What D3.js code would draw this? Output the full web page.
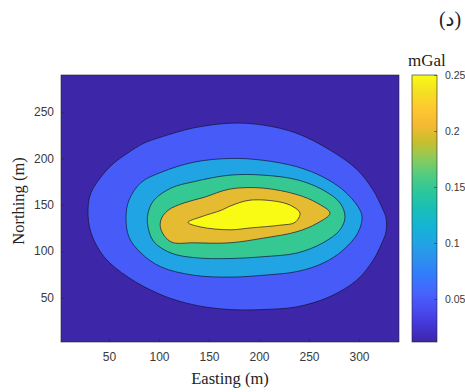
<!DOCTYPE html>
<html>
<head>
<meta charset="utf-8">
<script src="https://cdn.jsdelivr.net/npm/d3@7"></script>
<style>
body { margin: 0; background: #fff; }
svg { display: block; }
</style>
</head>
<body>
<div class="chart_frame"></div>
<script>
// contour levels (mGal), lowest entry is the field minimum
var levels = [0.0116, 0.05, 0.10, 0.15, 0.20, 0.25];
var cbTicks = [0.05, 0.1, 0.15, 0.2, 0.25];
var xTicks = [50, 100, 150, 200, 250, 300];
var yTicks = [50, 100, 150, 200, 250];
var eastingRange = [2, 340],
    northingRange = [2, 290];

// contour rings, [easting, northing] in metres
var c050 = [[29,144],[32,163],[45,184],[56,196],[69,206],[84,216],[102,223],[135,233],[172,238],[204,236],
            [238,227],[271,209],[298,188],[314,166],[323,147],[327,136],[327,121],[323,109],[314,90],[298,69],
            [271,51],[238,40],[204,37],[171,37],[135,42],[102,53],[69,72],[45,94],[32,120]];
var c100 = [[67,137],[70,155],[82,174],[102,185],[135,196],[172,200],[204,198],[238,191],[264,180],[284,166],
            [299,148],[303,137],[299,120],[284,101],[264,87],[238,78],[204,74],[172,72],[135,74],[102,83],
            [82,98],[70,115]];
var c150 = [[89,141],[95,155],[112,168],[135,175],[171,182],[204,182],[238,177],[264,166],[281,152],[286,137],
            [281,123],[264,109],[238,98],[204,94],[171,92],[135,93],[112,98],[95,110],[89,126]];
var c200 = [[102,134],[109,144],[125,152],[145,158],[171,167],[204,168],[238,161],[258,152],[271,141],[258,130],
            [238,121],[204,114],[171,109],[135,109],[112,110],[102,123]];
var c250 = [[129,131],[142,137],[162,144],[172,149],[191,155],[221,153],[234,148],[241,141],[236,131],[221,128],
            [191,125],[171,123],[142,126]];

var contours = [
    {level: levels[1], ring: c050},
    {level: levels[2], ring: c100},
    {level: levels[3], ring: c150},
    {level: levels[4], ring: c200},
    {level: levels[5], ring: c250}
];

// parula colormap
var parula = ['#3e26a8','#4435d5','#484df0','#4665fd','#327bfc','#2c91ed','#20a5e3','#14b5d4',
              '#19bfb5','#2bc79b','#51cc80','#8ccb5b','#c8bf2d','#f5b935','#fec830','#f5e023','#f9fb15'];

var width = 465, height = 392,
    plot = {'left': 61, 'top': 75, 'width': 338, 'height': 267},
    cbar = {'left': 412, 'top': 75, 'width': 25, 'height': 267};

var x = d3.scaleLinear().domain(eastingRange).range([0, plot.width]);
var y = d3.scaleLinear().domain(northingRange).range([plot.height, 0]);
var cmin = levels[0], cmax = levels[levels.length - 1];
var color = d3.scaleLinear()
    .domain(parula.map(function(d, i) { return cmin + i * (cmax - cmin) / (parula.length - 1); }))
    .range(parula)
    .interpolate(d3.interpolateRgb);
var cy = d3.scaleLinear().domain([cmin, cmax]).range([cbar.height, 0]);

var svg = d3.select('.chart_frame').append('svg')
    .attr('width', width)
    .attr('height', height);

var defs = svg.append('defs');
defs.append('clipPath').attr('id', 'plotclip')
    .append('rect').attr('width', plot.width).attr('height', plot.height);

var grad = defs.append('linearGradient').attr('id', 'cbgrad')
    .attr('x1', 0).attr('y1', 1).attr('x2', 0).attr('y2', 0);
parula.forEach(function(c, i) {
    grad.append('stop').attr('offset', i / (parula.length - 1)).attr('stop-color', c);
});

// map
var chart = svg.append('g')
    .attr('transform', 'translate(' + plot.left + ',' + plot.top + ')');
var map = chart.append('g').attr('clip-path', 'url(#plotclip)');

map.append('rect')
    .attr('width', plot.width)
    .attr('height', plot.height)
    .attr('fill', color(levels[0]));

var ringLine = d3.line()
    .x(function(d) { return x(d[0]); })
    .y(function(d) { return y(d[1]); })
    .curve(d3.curveCatmullRomClosed.alpha(0.5));

map.selectAll('path.band')
    .data(contours)
    .enter().append('path')
    .attr('class', 'band')
    .attr('d', function(d) { return ringLine(d.ring); })
    .attr('fill', function(d) { return color(d.level); })
    .attr('stroke', '#101030')
    .attr('stroke-opacity', 0.85)
    .attr('stroke-width', 0.8);

// axes
var xAxis = chart.append('g')
    .attr('transform', 'translate(0,' + plot.height + ')')
    .call(d3.axisBottom(x).tickValues(xTicks).tickSizeInner(-3).tickSizeOuter(0).tickPadding(10));
var yAxis = chart.append('g')
    .call(d3.axisLeft(y).tickValues(yTicks).tickSizeInner(-3).tickSizeOuter(0).tickPadding(7));

[xAxis, yAxis].forEach(function(a) {
    a.select('.domain').remove();
    a.selectAll('.tick line').attr('stroke', '#262626').attr('stroke-width', 0.5);
    a.selectAll('.tick text')
        .attr('fill', '#3a3a3a')
        .style('font-family', 'Liberation Sans, Arial, sans-serif')
        .style('font-size', '12px');
});

chart.append('rect')
    .attr('width', plot.width)
    .attr('height', plot.height)
    .attr('fill', 'none')
    .attr('stroke', '#262626')
    .attr('stroke-width', 0.6);

// axis titles
svg.append('text')
    .attr('x', plot.left + plot.width / 2)
    .attr('y', 384)
    .attr('text-anchor', 'middle')
    .style('font-family', 'Liberation Serif, Times New Roman, serif')
    .style('font-size', '16.5px')
    .attr('fill', '#222')
    .text('Easting (m)');

svg.append('text')
    .attr('transform', 'translate(24,201) rotate(-90)')
    .attr('text-anchor', 'middle')
    .style('font-family', 'Liberation Serif, Times New Roman, serif')
    .style('font-size', '16.5px')
    .attr('fill', '#222')
    .text('Northing (m)');

// colorbar
var cb = svg.append('g')
    .attr('transform', 'translate(' + cbar.left + ',' + cbar.top + ')');
cb.append('rect')
    .attr('width', cbar.width)
    .attr('height', cbar.height)
    .attr('fill', 'url(#cbgrad)')
    .attr('stroke', '#262626')
    .attr('stroke-width', 0.6);

var cbAxis = cb.append('g')
    .attr('transform', 'translate(' + cbar.width + ',0)')
    .call(d3.axisRight(cy).tickValues(cbTicks).tickFormat(d3.format('~g')).tickSizeInner(-3).tickSizeOuter(0).tickPadding(8));
cbAxis.select('.domain').remove();
cbAxis.selectAll('.tick line').attr('stroke', '#262626').attr('stroke-width', 0.5);
cbAxis.selectAll('.tick text')
    .attr('fill', '#3a3a3a')
    .style('font-family', 'Liberation Sans, Arial, sans-serif')
    .style('font-size', '10.5px');

svg.append('text')
    .attr('x', 408)
    .attr('y', 66)
    .style('font-family', 'Liberation Serif, Times New Roman, serif')
    .style('font-size', '17px')
    .attr('fill', '#222')
    .text('mGal');

svg.append('text')
    .attr('x', 450)
    .attr('y', 26)
    .attr('text-anchor', 'middle')
    .style('font-family', 'Liberation Serif, DejaVu Sans, serif')
    .style('font-size', '20px')
    .attr('fill', '#222')
    .text('(د)');
</script>
</body>
</html>
